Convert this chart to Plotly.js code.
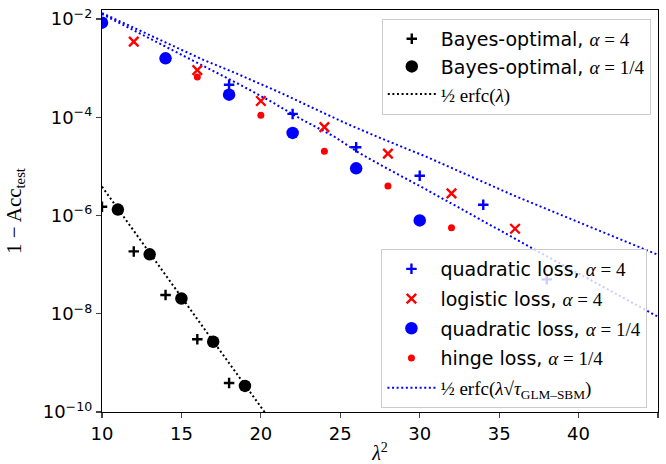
<!DOCTYPE html>
<html>
<head>
<meta charset="utf-8">
<script src="https://cdn.plot.ly/plotly-3.0.1.min.js"></script>
<style>
html,body{margin:0;padding:0;background:#fff;}
#chart{width:666px;height:464px;}
</style>
</head>
<body>
<div id="chart"></div>
<script>
// ---- data ----
const boA4_x = [10, 12, 14, 16, 18];
const boA4_y = [1.51e-6, 1.86e-7, 2.40e-8, 3.02e-9, 3.89e-10];

const boA14_x = [11, 13, 15, 17, 19];
const boA14_y = [1.32e-6, 1.62e-7, 2.04e-8, 2.69e-9, 3.39e-10];

const erfc_x = [10, 11, 12, 13, 14, 15, 16, 17, 18, 19, 20, 21];
const erfc_y = [3.87e-6, 1.363e-6, 4.82e-7, 1.707e-7, 6.06e-8, 2.16e-8, 7.71e-9, 2.755e-9, 9.87e-10, 3.537e-10, 1.27e-10, 4.56e-11];

const quadA4_x = [18, 22, 26, 30, 34, 38];
const quadA4_y = [4.57e-4, 1.17e-4, 2.45e-5, 6.46e-6, 1.66e-6, 5.01e-8];

const logA4_x = [12, 16, 20, 24, 28, 32, 36];
const logA4_y = [3.47e-3, 9.12e-4, 2.14e-4, 6.31e-5, 1.82e-5, 2.82e-6, 5.37e-7];

const quadA14_x = [10, 14, 18, 22, 26, 30];
const quadA14_y = [8.41e-3, 1.58e-3, 2.88e-4, 4.79e-5, 9.12e-6, 7.94e-7];

const hingeA14_x = [16, 20, 24, 28, 32];
const hingeA14_y = [6.61e-4, 1.10e-4, 2.04e-5, 3.98e-6, 5.62e-7];

const tauUpper_x = [10, 14.3, 16.3, 18.4, 21.3, 23.4, 25.4, 27.5, 30.4, 35.9, 45];
const tauUpper_y = [1.32e-2, 2.95e-3, 1.51e-3, 7.94e-4, 3.09e-4, 1.48e-4, 7.41e-5, 3.80e-5, 1.58e-5, 2.57e-6, 1.58e-7];

const tauLower_x = [10, 16.3, 18.7, 20.7, 22.6, 24.6, 26.2, 28.1, 30.4, 37.6, 45];
const tauLower_y = [1.26e-2, 1.17e-3, 4.57e-4, 2.04e-4, 8.91e-5, 4.07e-5, 1.86e-5, 8.51e-6, 3.39e-6, 1.74e-7, 8.71e-9];

const xTicks = [10, 15, 20, 25, 30, 35, 40, 45];
const yTickVals = [1e-10, 1e-8, 1e-6, 1e-4, 1e-2];
const yTickText = ['10<sup>−10</sup>', '10<sup>−8</sup>', '10<sup>−6</sup>', '10<sup>−4</sup>', '10<sup>−2</sup>'];

// ---- styling ----
const SANS = 'DejaVu Sans';
const SERIF = 'Liberation Serif';
const FS = 18;
const LFS = 19;
const m = s => "<span style='font-family:" + SERIF + "'>" + s + "</span>";
const dotDash = '2px,2.6px';

const traces = [
  {x: tauUpper_x, y: tauUpper_y, mode: 'lines', line: {color: 'blue', width: 2, dash: dotDash},
   legend: 'legend2', legendgroup: 'g9', legendrank: 9, showlegend: false, hoverinfo: 'skip'},
  {x: tauLower_x, y: tauLower_y, mode: 'lines', line: {color: 'blue', width: 2, dash: dotDash},
   legend: 'legend2', legendgroup: 'g9', legendrank: 9,
   name: m('½ erfc(<i>λ</i>√<i>τ</i><sub>GLM–SBM</sub>)')},
  {x: erfc_x, y: erfc_y, mode: 'lines', line: {color: 'black', width: 2, dash: dotDash},
   legend: 'legend', legendgroup: 'g3', legendrank: 3, name: m('½ erfc(<i>λ</i>)')},
  {x: boA4_x, y: boA4_y, mode: 'markers', legend: 'legend', legendgroup: 'g1', legendrank: 1,
   marker: {symbol: 'cross-thin', size: 7.5, color: 'black', line: {color: 'black', width: 2.4}},
   name: 'Bayes-optimal, ' + m('<i>α</i> = 4')},
  {x: boA14_x, y: boA14_y, mode: 'markers', legend: 'legend', legendgroup: 'g2', legendrank: 2,
   marker: {symbol: 'circle', size: 12.5, color: 'black'},
   name: 'Bayes-optimal, ' + m('<i>α</i> = 1/4')},
  {x: quadA4_x, y: quadA4_y, mode: 'markers', legend: 'legend2', legendgroup: 'g5', legendrank: 5,
   marker: {symbol: 'cross-thin', size: 7.5, color: 'blue', line: {color: 'blue', width: 2.4}},
   name: 'quadratic loss, ' + m('<i>α</i> = 4')},
  {x: logA4_x, y: logA4_y, mode: 'markers', legend: 'legend2', legendgroup: 'g6', legendrank: 6,
   marker: {symbol: 'x-thin', size: 9.5, color: 'red', line: {color: 'red', width: 2.4}},
   name: 'logistic loss, ' + m('<i>α</i> = 4')},
  {x: quadA14_x, y: quadA14_y, mode: 'markers', legend: 'legend2', legendgroup: 'g7', legendrank: 7,
   marker: {symbol: 'circle', size: 12.5, color: 'blue'},
   name: 'quadratic loss, ' + m('<i>α</i> = 1/4')},
  {x: hingeA14_x, y: hingeA14_y, mode: 'markers', legend: 'legend2', legendgroup: 'g8', legendrank: 8,
   marker: {symbol: 'circle', size: 7, color: 'red'},
   name: 'hinge loss, ' + m('<i>α</i> = 1/4')}
];

const layout = {
  width: 666, height: 464,
  margin: {l: 102, r: 8, t: 10, b: 52},
  paper_bgcolor: 'white', plot_bgcolor: 'white',
  font: {family: SANS, size: FS, color: 'black'},
  showlegend: true,
  xaxis: {
    range: [10, 45], tickvals: xTicks, ticks: 'outside', ticklen: 5, tickwidth: 1.2,
    showline: true, linecolor: 'black', linewidth: 1.2, mirror: true, showgrid: false, zeroline: false,
    tickfont: {family: SANS, size: FS},
    title: {text: '<i>λ</i><sup>2</sup>', font: {family: SERIF, size: 20}, standoff: 8}
  },
  yaxis: {
    type: 'log', range: [-10, -1.817], tickvals: yTickVals, ticktext: yTickText,
    ticks: 'outside', ticklen: 5, tickwidth: 1.2,
    showline: true, linecolor: 'black', linewidth: 1.2, mirror: true, showgrid: false, zeroline: false,
    tickfont: {family: SANS, size: FS},
    title: {text: '1 − Acc<sub>test</sub>', font: {family: SERIF, size: 21}, standoff: 15}
  },
  legend: {
    x: 0.987, y: 0.978, xanchor: 'right', yanchor: 'top',
    bgcolor: 'rgba(255,255,255,0.8)', bordercolor: '#cccccc', borderwidth: 1,
    font: {family: SANS, size: LFS}, traceorder: 'grouped', tracegroupgap: 0, itemwidth: 48
  },
  legend2: {
    x: 0.981, y: 0.01, xanchor: 'right', yanchor: 'bottom',
    bgcolor: 'rgba(255,255,255,0.8)', bordercolor: '#cccccc', borderwidth: 1,
    font: {family: SANS, size: LFS}, traceorder: 'grouped', tracegroupgap: 2, itemwidth: 48
  }
};

Plotly.newPlot('chart', traces, layout, {displayModeBar: false, staticPlot: true});
</script>
</body>
</html>
